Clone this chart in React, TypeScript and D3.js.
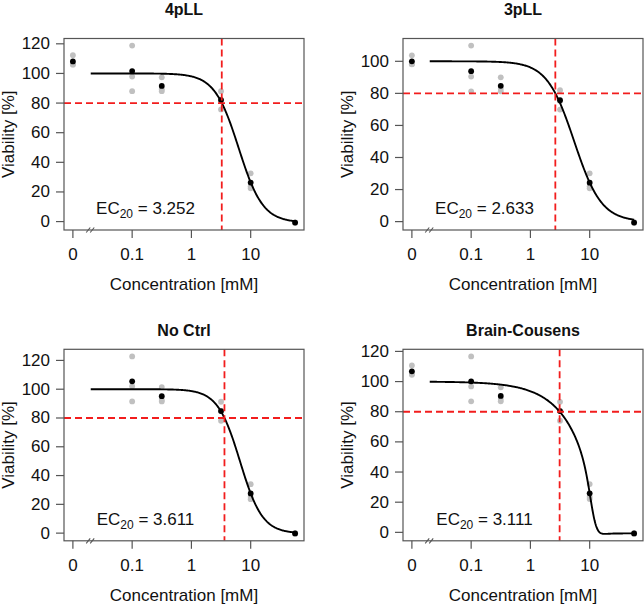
import React from 'react';
import * as d3 from 'd3';

// ---------- data ----------
const titles = ['4pLL', '3pLL', 'No Ctrl', 'Brain-Cousens'];
const doses = [0, 0.1, 0.316, 3.16, 10, 56.2];
const xTickValues = [0, 0.1, 1, 10];
const xTickLabels = ['0', '0.1', '1', '10'];
const ec20Values = [3.252, 2.633, 3.611, 3.111];
const ec20Labels = ['3.252', '2.633', '3.611', '3.111'];
const yTicks4pLL = [0, 20, 40, 60, 80, 100, 120];
const yTicks3pLL = [0, 20, 40, 60, 80, 100];
const yTicksNoCtrl = [0, 20, 40, 60, 80, 100, 120];
const yTicksBC = [0, 20, 40, 60, 80, 100, 120];

// replicate viability [%] per dose (same order as doses); null = not plotted
const rep4pLL: (number[] | null)[] = [
  [112.3, 106.2, 105.9], [118.8, 97.9, 88.0], [97.4, 89.4, 88.0],
  [88.0, 82.3, 75.7], [32.6, 23.8, 22.5], [-0.5, -0.7, -0.9],
];
const rep3pLL: (number[] | null)[] = [
  [103.7, 98.2, 98.1], [109.8, 90.5, 81.3], [90.0, 82.9, 81.3],
  [82.0, 75.2, 69.9], [30.1, 22.0, 20.8], [-0.4, -0.6, -0.8],
];
const repNoCtrl: (number[] | null)[] = [
  null, [122.8, 102.1, 91.5], [101.5, 92.5, 91.5],
  [91.3, 85.0, 78.1], [34.0, 25.2, 23.6], [0.0, -0.2, -0.4],
];
const repBC: (number[] | null)[] = [
  [110.7, 105.2, 104.5], [116.7, 96.8, 86.9], [96.2, 88.4, 86.9],
  [86.6, 80.6, 74.0], [32.0, 23.6, 22.1], [-0.5, -0.7, -0.9],
];

// fitted model parameters
const par4pLL = { b: 2.13, c: -0.7, d: 100, e: 6.27, f: 0 };
const par3pLL = { b: 1.89, c: 0, d: 100, e: 5.49, f: 0 };
const parNoCtrl = { b: 2.3, c: -0.3, d: 100, e: 6.61, f: 0 };
const parBC = { b: 8, c: -0.7, d: 100, e: 11.3, f: -6.4 };
const curveStart = 0.02;
const zeroDosePosition = 0.01;

// ---------- layout ----------
const FONT = "'Liberation Sans', Arial, Helvetica, sans-serif";
const W = 644, H = 606;
const boxW = 240, boxH = 191.5;
const colLeft = [64, 403];
const rowTop = [38.5, 349.3];
const titleBaseline = [14.5, 336.3];

type Par = { b: number; c: number; d: number; e: number; f: number };
const model = (x: number, p: Par) =>
  p.c + (p.d - p.c + p.f * x) / (1 + Math.exp(p.b * (Math.log(x) - Math.log(p.e))));

const panels = [
  { title: titles[0], reps: rep4pLL, par: par4pLL, ec: ec20Values[0], ecLab: ec20Labels[0], yTicks: yTicks4pLL, col: 0, row: 0 },
  { title: titles[1], reps: rep3pLL, par: par3pLL, ec: ec20Values[1], ecLab: ec20Labels[1], yTicks: yTicks3pLL, col: 1, row: 0 },
  { title: titles[2], reps: repNoCtrl, par: parNoCtrl, ec: ec20Values[2], ecLab: ec20Labels[2], yTicks: yTicksNoCtrl, col: 0, row: 1 },
  { title: titles[3], reps: repBC, par: parBC, ec: ec20Values[3], ecLab: ec20Labels[3], yTicks: yTicksBC, col: 1, row: 1 },
];

const plotDose = (d: number) => (d === 0 ? zeroDosePosition : d);

function Panel({ p, idx }: { p: (typeof panels)[number]; idx: number }) {
  const left = colLeft[p.col];
  const top = rowTop[p.row];
  const lo = Math.log10(zeroDosePosition);
  const hi = Math.log10(d3.max(doses) as number);
  const xpad = 0.04 * (hi - lo);
  const x = d3.scaleLog().domain([10 ** (lo - xpad), 10 ** (hi + xpad)]).range([left, left + boxW]);

  const allVals: number[] = [];
  p.reps.forEach((r) => r && r.forEach((v) => allVals.push(v)));
  const [ymin, ymax] = d3.extent(allVals) as [number, number];
  const ypad = 0.04 * (ymax - ymin);
  const y = d3.scaleLinear().domain([ymin - ypad, ymax + ypad]).range([top + boxH, top]);

  const logGrid = d3.range(0, 301).map((i) => {
    const a = Math.log10(curveStart), b = hi;
    return 10 ** (a + ((b - a) * i) / 300);
  });
  const line = d3.line<number>().x((d) => x(d)).y((d) => y(model(d, p.par)));
  const bottom = top + boxH;
  const bx = x(curveStart);
  const clipId = `clip${idx}`;
  const axisColor = '#555';

  return (
    <g>
      <defs>
        <clipPath id={clipId}>
          <rect x={left} y={top} width={boxW} height={boxH} />
        </clipPath>
      </defs>
      <text x={left + boxW / 2} y={titleBaseline[p.row]} textAnchor="middle" fontWeight="bold" fontSize={16} fill="#111">
        {p.title}
      </text>
      {/* points */}
      <g>
        {p.reps.map((r, i) =>
          r ? r.map((v, j) => <circle key={`g${i}-${j}`} cx={x(plotDose(doses[i]))} cy={y(v)} r={2.9} fill="#c0c0c0" />) : null
        )}
        {p.reps.map((r, i) =>
          r ? <circle key={`m${i}`} cx={x(plotDose(doses[i]))} cy={y(d3.mean(r) as number)} r={2.9} fill="#000" /> : null
        )}
      </g>
      {/* fitted curve */}
      <path d={line(logGrid) || ''} fill="none" stroke="#000" strokeWidth={1.9} clipPath={`url(#${clipId})`} />
      {/* EC20 reference lines */}
      <g clipPath={`url(#${clipId})`} stroke="#f21d1d" strokeWidth={1.8} strokeDasharray="7,4">
        <line x1={left} x2={left + boxW} y1={y(80)} y2={y(80)} />
        <line x1={x(p.ec)} x2={x(p.ec)} y1={top} y2={bottom} />
      </g>
      {/* box */}
      <rect x={left} y={top} width={boxW} height={boxH} fill="none" stroke={axisColor} strokeWidth={1.2} />
      {/* x axis ticks */}
      {xTickValues.map((v, i) => (
        <g key={`xt${i}`}>
          <line x1={x(plotDose(v))} x2={x(plotDose(v))} y1={bottom} y2={bottom + 8} stroke={axisColor} strokeWidth={1.2} />
          <text x={x(plotDose(v))} y={bottom + 30} textAnchor="middle" fontSize={17} fill="#111">
            {xTickLabels[i]}
          </text>
        </g>
      ))}
      {/* axis break */}
      <g stroke={axisColor} strokeWidth={1.1}>
        <line x1={bx - 4.5} y1={bottom + 2.5} x2={bx - 0.5} y2={bottom - 2.5} />
        <line x1={bx - 0.5} y1={bottom + 2.5} x2={bx + 3.5} y2={bottom - 2.5} />
      </g>
      {/* y axis ticks */}
      {p.yTicks.map((v) => (
        <g key={`yt${v}`}>
          <line x1={left - 8} x2={left} y1={y(v)} y2={y(v)} stroke={axisColor} strokeWidth={1.2} />
          <text x={left - 14} y={y(v)} textAnchor="end" dominantBaseline="central" fontSize={17} fill="#111">
            {v}
          </text>
        </g>
      ))}
      {/* axis labels */}
      <text x={left + boxW / 2} y={bottom + 60} textAnchor="middle" fontSize={17} fill="#111">
        Concentration [mM]
      </text>
      <text
        transform={`translate(${left - 50},${top + boxH / 2}) rotate(-90)`}
        textAnchor="middle"
        fontSize={17}
        fill="#111"
      >
        Viability [%]
      </text>
      {/* EC20 label */}
      <text x={left + 81.5} y={top + 175.5} textAnchor="middle" fontSize={17} fill="#111">
        <tspan>EC</tspan>
        <tspan fontSize={12} dy={4}>20</tspan>
        <tspan dy={-4}>{` = ${p.ecLab}`}</tspan>
      </text>
    </g>
  );
}

export default function App() {
  return (
    <svg
      width={W}
      height={H}
      viewBox={`0 0 ${W} ${H}`}
      style={{ position: 'absolute', left: 0, top: 0, background: '#fff' }}
      fontFamily={FONT}
    >
      <rect x={0} y={0} width={W} height={H} fill="#fff" />
      {panels.map((p, i) => (
        <Panel key={i} p={p} idx={i} />
      ))}
    </svg>
  );
}
